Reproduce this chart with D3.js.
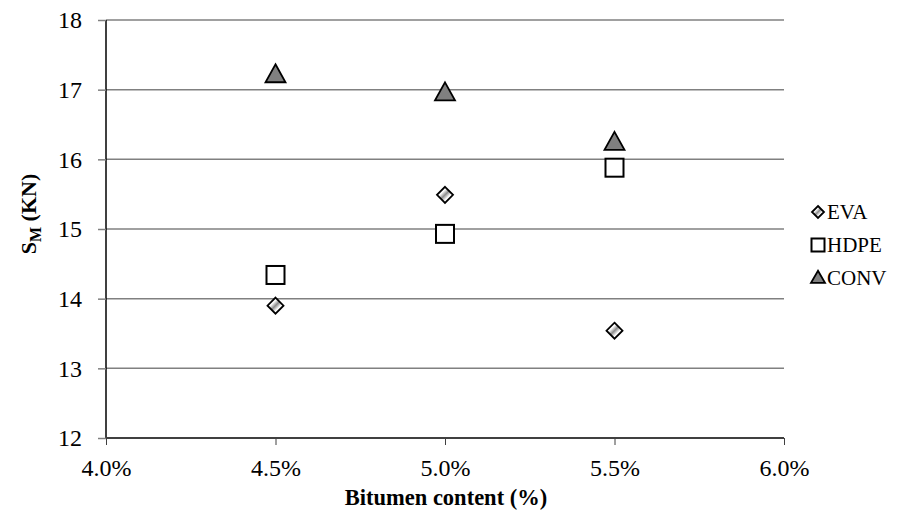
<!DOCTYPE html>
<html>
<head>
<meta charset="utf-8">
<script src="https://cdn.jsdelivr.net/npm/d3@7"></script>
<style>
  body { margin: 0; background: #fff; }
</style>
</head>
<body>
<div id="chart"></div>
<script>
const bitumen = [0.045, 0.05, 0.055];
const evaValues = [13.9, 15.49, 13.54];
const hdpeValues = [14.34, 14.93, 15.88];
const convValues = [17.21, 16.95, 16.24];
const xTicks = [0.04, 0.045, 0.05, 0.055, 0.06];
const yTicks = [12, 13, 14, 15, 16, 17, 18];
const seriesNames = ['EVA', 'HDPE', 'CONV'];

const fontFamily = 'Liberation Serif';
const width = 914;
const height = 526;
const margin = { top: 20, right: 130, bottom: 88, left: 106 };
const innerWidth = 784 - margin.left;
const innerHeight = 438 - margin.top;
const tickFont = 24;

const xScale = d3.scaleLinear().domain([0.04, 0.06]).range([0, innerWidth]);
const yScale = d3.scaleLinear().domain([12, 18]).range([innerHeight, 0]);

const svg = d3.select('#chart').append('svg')
    .attr('width', width)
    .attr('height', height)
    .attr('font-family', fontFamily);

// gradient for the diamond's hatched look
const defs = svg.append('defs');
const grad = defs.append('linearGradient')
    .attr('id', 'evaFill')
    .attr('x1', '0%').attr('y1', '0%').attr('x2', '100%').attr('y2', '100%');
grad.append('stop').attr('offset', '0%').attr('stop-color', '#fff');
grad.append('stop').attr('offset', '33%').attr('stop-color', '#fff');
grad.append('stop').attr('offset', '50%').attr('stop-color', '#8c8c8c');
grad.append('stop').attr('offset', '67%').attr('stop-color', '#fff');
grad.append('stop').attr('offset', '100%').attr('stop-color', '#fff');

const g = svg.append('g')
    .attr('transform', `translate(${margin.left},${margin.top})`);

// horizontal grid lines
g.selectAll('.grid')
    .data(yTicks.filter(d => d > 12))
    .join('line')
    .attr('class', 'grid')
    .attr('x1', 0).attr('x2', innerWidth)
    .attr('y1', d => yScale(d)).attr('y2', d => yScale(d))
    .attr('stroke', '#808080')
    .attr('stroke-width', 1.5);

// y axis
const yAxis = g.append('g')
    .call(d3.axisLeft(yScale).tickValues(yTicks).tickSize(8).tickPadding(16).tickFormat(d3.format('d')));
yAxis.attr('font-family', fontFamily).attr('font-size', tickFont);
yAxis.select('.domain').attr('stroke', '#000').attr('stroke-width', 1.5).attr('d', `M0,${innerHeight}V0`);
yAxis.selectAll('.tick line').attr('stroke', '#808080').attr('stroke-width', 1.5);
yAxis.selectAll('.tick text').attr('fill', '#000');

// x axis
const xAxis = g.append('g')
    .attr('transform', `translate(0,${innerHeight})`)
    .call(d3.axisBottom(xScale).tickValues(xTicks).tickSize(7).tickPadding(14).tickFormat(d3.format('.1%')));
xAxis.attr('font-family', fontFamily).attr('font-size', tickFont);
xAxis.select('.domain').attr('stroke', '#404040').attr('stroke-width', 2).attr('d', `M0,0H${innerWidth}`);
xAxis.selectAll('.tick line').attr('stroke', '#404040').attr('stroke-width', 1);
xAxis.selectAll('.tick text').attr('fill', '#000');

// axis titles
svg.append('text')
    .attr('x', margin.left + innerWidth / 2 + 1)
    .attr('y', 505)
    .attr('text-anchor', 'middle')
    .attr('font-size', 22.5)
    .attr('font-weight', 'bold')
    .text('Bitumen content (%)');

const yTitle = svg.append('text')
    .attr('transform', 'translate(36,214) rotate(-90)')
    .attr('text-anchor', 'middle')
    .attr('font-size', 22)
    .attr('font-weight', 'bold');
yTitle.append('tspan').text('S');
yTitle.append('tspan').attr('dy', 5).attr('font-size', 16).text('M');
yTitle.append('tspan').attr('dy', -5).text(' (KN)');

// marker drawers
const drawDiamond = (sel, r) => sel.append('path')
    .attr('d', `M0,${-r}L${r},0L0,${r}L${-r},0Z`)
    .attr('fill', 'url(#evaFill)')
    .attr('stroke', '#000')
    .attr('stroke-width', 1.8);
const drawSquare = (sel, s) => sel.append('rect')
    .attr('x', -s / 2).attr('y', -s / 2)
    .attr('width', s).attr('height', s)
    .attr('fill', '#fff')
    .attr('stroke', '#000')
    .attr('stroke-width', 2);
const drawTriangle = (sel, w, h) => sel.append('path')
    .attr('d', `M0,${-h * 0.6}L${w / 2},${h * 0.4}L${-w / 2},${h * 0.4}Z`)
    .attr('fill', '#808080')
    .attr('stroke', '#000')
    .attr('stroke-width', 1.8);

const pts = (vals) => bitumen.map((b, i) => ({ x: b, y: vals[i] }));

g.selectAll('.conv').data(pts(convValues)).join('g')
    .attr('class', 'conv')
    .attr('transform', d => `translate(${xScale(d.x)},${yScale(d.y)})`)
    .each(function () { drawTriangle(d3.select(this), 20, 18); });

g.selectAll('.hdpe').data(pts(hdpeValues)).join('g')
    .attr('class', 'hdpe')
    .attr('transform', d => `translate(${xScale(d.x)},${yScale(d.y)})`)
    .each(function () { drawSquare(d3.select(this), 18); });

g.selectAll('.eva').data(pts(evaValues)).join('g')
    .attr('class', 'eva')
    .attr('transform', d => `translate(${xScale(d.x)},${yScale(d.y)})`)
    .each(function () { drawDiamond(d3.select(this), 8); });

// legend
const legend = svg.append('g').attr('transform', 'translate(818,212)');
seriesNames.forEach((name, i) => {
    const row = legend.append('g').attr('transform', `translate(0,${i * 33})`);
    if (name === 'EVA') drawDiamond(row, 6);
    if (name === 'HDPE') drawSquare(row, 13);
    if (name === 'CONV') drawTriangle(row, 14, 12);
    row.append('text')
        .attr('x', 9)
        .attr('y', 7)
        .attr('font-size', 21)
        .text(name);
});
</script>
</body>
</html>
